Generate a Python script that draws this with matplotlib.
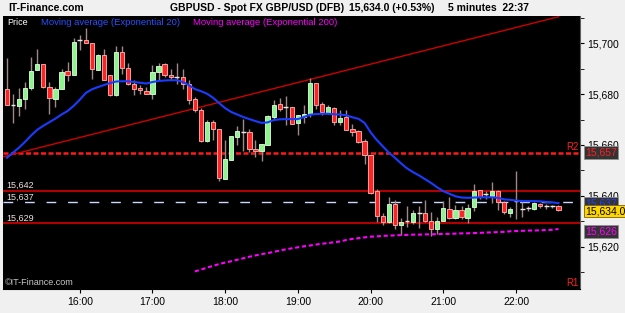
import numpy as np
import pandas as pd
import matplotlib
matplotlib.use('Agg')
import matplotlib.pyplot as plt
import matplotlib.transforms as mtransforms
from matplotlib.ticker import MultipleLocator, FuncFormatter

plt.rcParams['font.family'] = ['Liberation Sans', 'DejaVu Sans']

# 5-minute GBPUSD candles, 15:00 -> 22:35
times = pd.date_range('2024-01-01 15:00', periods=92, freq='5min')
opens = [15682.2, 15675.6, 15675.4, 15678.2, 15682.5, 15689.7, 15691.7, 15683.0, 15678.2, 15681.9,
         15689.0, 15687.5, 15701.3, 15701.3, 15700.0, 15689.7, 15695.4, 15687.5, 15679.6, 15696.7,
         15690.4, 15684.2, 15682.5, 15681.3, 15680.2, 15688.8, 15691.7, 15687.5, 15686.6, 15686.6,
         15683.9, 15678.0, 15673.7, 15661.6, 15669.1, 15666.2, 15646.7, 15654.2, 15663.1, 15665.1,
         15665.1, 15658.5, 15657.6, 15660.1, 15671.0, 15676.3, 15675.0, 15675.0, 15668.8, 15671.0,
         15672.1, 15684.4, 15676.3, 15672.7, 15674.7, 15669.1, 15671.0, 15666.2, 15665.5, 15661.4,
         15655.9, 15641.8, 15632.2, 15629.6, 15636.8, 15628.6, 15630.2, 15629.6, 15633.3, 15633.3,
         15630.2, 15626.9, 15630.2, 15634.8, 15631.3, 15634.4, 15631.3, 15635.5, 15642.1, 15640.5,
         15640.1, 15641.8, 15637.5, 15633.3, 15638.1, 15634.8, 15635.1, 15634.8, 15636.8, 15636.1,
         15636.0, 15636.0]
highs = [15694.3, 15680.2, 15682.5, 15684.8, 15694.7, 15698.0, 15691.7, 15684.8, 15682.9, 15690.1,
         15692.7, 15702.0, 15703.3, 15705.9, 15700.0, 15696.0, 15698.0, 15687.5, 15699.0, 15699.0,
         15692.1, 15685.5, 15683.8, 15682.9, 15691.4, 15692.1, 15692.4, 15690.1, 15692.1, 15690.1,
         15685.5, 15679.0, 15674.7, 15669.7, 15669.7, 15666.2, 15661.8, 15663.4, 15667.3, 15670.4,
         15666.4, 15662.1, 15660.5, 15671.7, 15677.9, 15678.7, 15679.2, 15675.0, 15671.7, 15675.6,
         15686.2, 15684.4, 15677.0, 15675.6, 15674.9, 15673.7, 15673.7, 15668.4, 15665.8, 15662.5,
         15655.9, 15642.7, 15633.1, 15639.4, 15638.4, 15631.3, 15636.1, 15634.2, 15635.8, 15638.4,
         15633.5, 15631.8, 15637.9, 15639.7, 15636.5, 15636.1, 15636.8, 15644.7, 15642.3, 15641.8,
         15645.6, 15642.1, 15638.1, 15635.5, 15649.7, 15637.5, 15636.1, 15637.5, 15637.1, 15636.8,
         15636.4, 15636.4]
lows = [15675.6, 15668.8, 15671.4, 15674.3, 15681.8, 15689.4, 15682.6, 15672.3, 15675.0, 15681.9,
        15685.1, 15687.5, 15697.3, 15700.0, 15686.1, 15689.7, 15685.5, 15679.3, 15679.3, 15688.1,
        15683.8, 15679.8, 15680.2, 15680.0, 15678.3, 15685.5, 15686.8, 15685.5, 15684.2, 15682.2,
        15676.3, 15673.0, 15661.2, 15661.2, 15662.0, 15646.0, 15646.7, 15653.9, 15659.8, 15657.6,
        15657.2, 15655.2, 15653.7, 15659.8, 15670.4, 15673.4, 15667.7, 15668.1, 15663.8, 15668.7,
        15671.0, 15674.3, 15671.7, 15672.3, 15667.7, 15667.7, 15665.8, 15663.4, 15660.8, 15652.6,
        15640.8, 15629.6, 15628.6, 15629.2, 15627.0, 15624.7, 15627.6, 15628.9, 15627.3, 15629.6,
        15624.3, 15625.0, 15630.0, 15630.9, 15630.9, 15630.9, 15629.2, 15633.9, 15638.8, 15638.8,
        15637.2, 15634.4, 15632.9, 15631.5, 15630.9, 15631.8, 15633.9, 15634.4, 15635.2, 15634.8,
        15635.2, 15633.9]
closes = [15675.6, 15675.6, 15678.2, 15682.6, 15689.3, 15691.7, 15682.9, 15678.5, 15681.9, 15688.8,
          15687.7, 15700.6, 15701.3, 15700.0, 15690.1, 15695.6, 15685.7, 15679.6, 15696.7, 15690.4,
          15684.2, 15682.2, 15681.5, 15680.2, 15688.8, 15691.0, 15687.5, 15686.6, 15686.6, 15683.9,
          15677.6, 15673.7, 15661.6, 15669.1, 15666.2, 15646.9, 15654.3, 15663.4, 15665.5, 15665.1,
          15658.5, 15657.6, 15660.2, 15671.3, 15675.6, 15674.3, 15675.0, 15668.4, 15671.7, 15672.3,
          15684.4, 15675.9, 15673.0, 15675.0, 15669.1, 15670.8, 15666.0, 15665.1, 15661.2, 15655.9,
          15641.0, 15632.2, 15629.6, 15636.8, 15628.6, 15629.6, 15630.2, 15633.3, 15633.3, 15630.0,
          15626.9, 15630.2, 15635.1, 15631.3, 15634.4, 15631.5, 15635.1, 15641.8, 15639.4, 15640.5,
          15641.8, 15637.5, 15633.5, 15634.8, 15638.1, 15634.8, 15635.1, 15637.1, 15635.8, 15636.1,
          15636.0, 15634.2]

ema20 = [15655.0, 15657.0, 15659.0, 15661.3, 15663.8, 15666.0, 15667.6, 15669.0, 15670.4, 15672.0,
         15673.4, 15675.4, 15677.8, 15680.5, 15681.9, 15682.8, 15683.6, 15684.4, 15685.0, 15685.1,
         15685.1, 15684.8, 15684.5, 15684.2, 15684.8, 15685.2, 15685.4, 15685.5, 15685.5, 15684.8,
         15683.6, 15682.0, 15681.2, 15680.2, 15678.6, 15676.5, 15674.5, 15673.0, 15672.0, 15671.0,
         15670.2, 15669.4, 15668.7, 15668.9, 15669.8, 15670.1, 15670.2, 15670.2, 15670.2, 15671.0,
         15671.9, 15672.2, 15672.3, 15672.3, 15672.1, 15672.0, 15671.7, 15670.9, 15670.3, 15668.7,
         15665.0, 15662.0, 15659.5, 15657.0, 15655.0, 15652.8, 15650.8, 15649.3, 15648.0, 15646.5,
         15645.0, 15643.3, 15641.8, 15640.8, 15639.8, 15639.3, 15639.2, 15639.3, 15639.4, 15639.4,
         15639.4, 15639.2, 15638.6, 15638.4, 15638.1, 15637.9, 15637.9, 15637.9, 15637.8, 15637.6,
         15637.4, 15637.1]
ema200 = [np.nan] * 31 + [
    15610.2, 15610.9, 15611.7, 15612.4, 15613.1, 15613.7, 15614.2, 15614.8, 15615.4, 15616.0,
    15616.5, 15617.0, 15617.4, 15617.9, 15618.4, 15618.9, 15619.3, 15619.7, 15620.1, 15620.4,
    15620.8, 15621.1, 15621.4, 15621.7, 15622.0, 15622.6, 15623.0, 15623.3, 15623.6, 15623.9,
    15624.0, 15624.2, 15624.3, 15624.4, 15624.5, 15624.6, 15624.7, 15624.7, 15624.8, 15624.8,
    15624.9, 15625.0, 15625.0, 15625.1, 15625.2, 15625.2, 15625.3, 15625.4, 15625.5, 15625.6,
    15625.7, 15625.8, 15626.0, 15626.1, 15626.2, 15626.3, 15626.3, 15626.4, 15626.5, 15626.6,
    15626.9]

# levels / drawings
trend_idx = [-0.7, 91]
trend_px = [15655.3, 15710.5]
r2_level = 15656.8
res_level = 15641.8
sup_level = 15629.2
mid_level = 15637.4
last_price = 15634.0

o = np.array(opens); h = np.array(highs); l = np.array(lows); c = np.array(closes)
x = np.arange(len(c))

fig = plt.figure(figsize=(6.25, 3.13), dpi=100, facecolor='#f0f0f0')
ax = fig.add_axes([3 / 625, 1 - 288.7 / 313, 577 / 625, 272.7 / 313])
ax.set_facecolor('black')
ax.set_xlim(-0.66, 94.55)
ax.set_ylim(15603.4, 15710.8)

# level lines
ax.axhline(r2_level, color='#ff1a1a', lw=1.8, ls=(0, (2, 1)), zorder=2)
ax.axhline(res_level, color='#b00000', lw=1.5, zorder=2)
ax.axhline(sup_level, color='#b00000', lw=1.5, zorder=2)
ax.axhline(mid_level, color='#c8d8ff', lw=1, ls=(0, (7, 8.5)), zorder=2)
ax.plot(trend_idx, trend_px, color='#cc0000', lw=1, zorder=2)

# candles
doji = c == o
green = c > o
red = c < o
ax.vlines(x, l, h, color='#a08888', lw=1, zorder=3)
ax.bar(x[green], (c - o)[green], bottom=o[green], width=0.7, color='#8ef58e',
       edgecolor='#e0ffe0', linewidth=0.6, zorder=4)
ax.bar(x[red], (o - c)[red], bottom=c[red], width=0.7, color='#ff2424',
       edgecolor='#ffb8b8', linewidth=0.6, zorder=4)
ax.hlines(c[doji], x[doji] - 0.4, x[doji] + 0.4, color='#e8e8e8', lw=1, zorder=4)

# moving averages
ax.plot(x, ema20, color='#1a3cff', lw=1.5, zorder=5)
ax.plot(x, ema200, color='#ff00ff', lw=1.5, ls=(0, (2, 1.3)), zorder=5)

# axes
ax.yaxis.tick_right()
ax.yaxis.set_major_locator(MultipleLocator(20))
ax.yaxis.set_minor_locator(MultipleLocator(10))
ax.yaxis.set_major_formatter(FuncFormatter(lambda v, p: f'{v:,.0f}'))
ax.tick_params(axis='y', which='both', direction='out', length=3, labelsize=7.5, pad=2)
hour_idx = [i for i, t in enumerate(times) if t.minute == 0 and i > 0]
ax.set_xticks(hour_idx)
ax.set_xticklabels([times[i].strftime('%H:%M') for i in hour_idx])
ax.tick_params(axis='x', direction='out', length=3, labelsize=7.5, pad=3)
for s in ['top', 'left']:
    ax.spines[s].set_visible(False)
ax.spines['right'].set_color('#606060')

# legend strip
ax.text(0.007, 0.975, 'Price', transform=ax.transAxes, color='white', fontsize=6.5, va='center')
ax.text(0.065, 0.975, 'Moving average (Exponential 20)', transform=ax.transAxes,
        color='#2850ff', fontsize=6.8, va='center')
ax.text(0.33, 0.975, 'Moving average (Exponential 200)', transform=ax.transAxes,
        color='#ff00ff', fontsize=6.8, va='center')

# level labels
blend = mtransforms.blended_transform_factory(ax.transAxes, ax.transData)
ax.text(0.005, res_level + 2.3, f'{res_level:,.0f}', transform=blend, color='#f0e0e0', fontsize=6.5, va='center')
ax.text(0.005, mid_level + 2.0, f'{mid_level:,.0f}', transform=blend, color='#f0e0e0', fontsize=6.5, va='center')
ax.text(0.005, sup_level + 2.0, f'{sup_level:,.0f}', transform=blend, color='#f0e0e0', fontsize=6.5, va='center')
ax.text(0.977, r2_level + 2.3, 'R2', transform=blend, color='#ff2020', fontsize=7, va='center')
ax.text(0.977, 0.022, 'R1', transform=ax.transAxes, color='#ff2020', fontsize=7, va='center')
ax.text(0.004, 0.024, '©IT-Finance.com', transform=ax.transAxes, color='#c8c8c8', fontsize=6.5, va='center')

# right-side price boxes
box = dict(boxstyle='square,pad=0.12', fc='#333333', ec='#909090', lw=0.6)
ax.text(1.009, 15657, '15,657', transform=blend, color='#ff2020', fontsize=7.5, va='center',
        bbox=box, zorder=6, clip_on=False)
ax.text(1.009, ema20[-1], f'{ema20[-1]:,.0f}', transform=blend, color='#2040ff', fontsize=7.5,
        va='center', bbox=box, zorder=6, clip_on=False)
ax.text(1.009, last_price, f'{last_price:,.1f}', transform=blend, color='black', fontsize=7.5,
        va='center', bbox=dict(boxstyle='square,pad=0.12', fc='#ffd700', ec='#806000', lw=0.6),
        zorder=7, clip_on=False)
ax.text(1.009, 15626, '15,626', transform=blend, color='#ff00ff', fontsize=7.5, va='center',
        bbox=box, zorder=6, clip_on=False)

# header
fig.text(8 / 625, 1 - 8 / 313, 'IT-Finance.com', fontsize=7.5, fontweight='bold', va='center')
fig.text(170 / 625, 1 - 8 / 313, 'GBPUSD - Spot FX GBP/USD (DFB)', fontsize=7.5, fontweight='bold', va='center')
fig.text(349 / 625, 1 - 8 / 313, '15,634.0 (+0.53%)', fontsize=7.5, fontweight='bold', va='center')
fig.text(448 / 625, 1 - 8 / 313, '5 minutes  22:37', fontsize=7.5, fontweight='bold', va='center')

fig.savefig('out.png', dpi=100, facecolor=fig.get_facecolor())
